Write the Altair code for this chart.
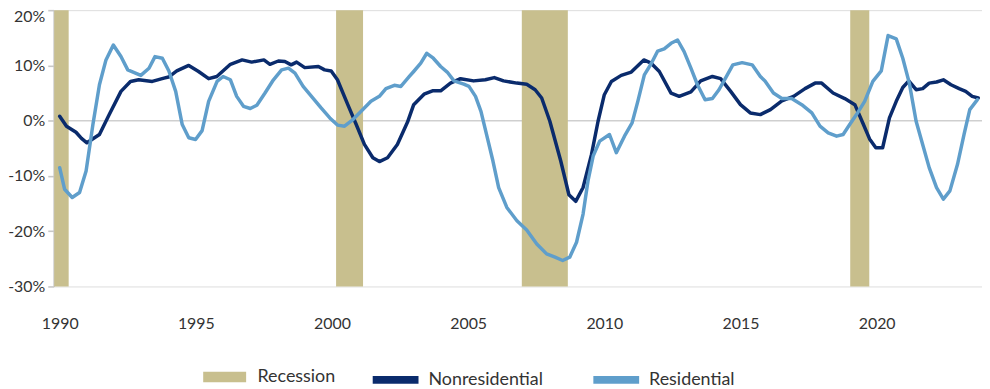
import altair as alt
import pandas as pd

# ---- data (percent, year-over-year) ----
nonres_t = [1990.0, 1990.25, 1990.6, 1990.8, 1991.0, 1991.46, 1991.82, 1992.25, 1992.6, 1992.9,
            1993.4, 1993.83, 1994.0, 1994.3, 1994.74, 1995.1, 1995.47, 1995.77, 1996.27, 1996.7,
            1997.05, 1997.5, 1997.72, 1998.03, 1998.27, 1998.5, 1998.7, 1999.0, 1999.5, 1999.73,
            1999.97, 2000.2, 2000.58, 2000.89, 2001.19, 2001.5, 2001.74, 2002.04, 2002.4, 2002.77,
            2003.0, 2003.38, 2003.69, 2003.99, 2004.35, 2004.72, 2005.2, 2005.63, 2005.96, 2006.3,
            2006.79, 2007.15, 2007.46, 2007.7, 2008.0, 2008.4, 2008.7, 2008.95, 2009.22, 2009.53,
            2009.77, 2010.0, 2010.26, 2010.62, 2010.99, 2011.45, 2011.72, 2012.02, 2012.45, 2012.75,
            2013.18, 2013.54, 2013.97, 2014.27, 2014.64, 2015.0, 2015.36, 2015.73, 2016.1, 2016.52,
            2016.95, 2017.37, 2017.74, 2017.98, 2018.4, 2018.83, 2019.2, 2019.5, 2019.74, 2019.97,
            2020.22, 2020.47, 2020.72, 2020.96, 2021.18, 2021.45, 2021.69, 2021.93, 2022.2, 2022.45,
            2022.73, 2023.03, 2023.27, 2023.51, 2023.73]
nonres_v = [0.8, -1.0, -2.1, -3.2, -4.0, -2.5, 1.1, 5.3, 7.1, 7.4,
            7.1, 7.7, 7.9, 9.0, 10.0, 8.9, 7.6, 8.0, 10.2, 11.0,
            10.6, 11.0, 10.2, 10.8, 10.7, 10.1, 10.6, 9.6, 9.8, 9.2,
            9.0, 7.4, 2.9, -0.7, -4.3, -6.7, -7.4, -6.7, -4.3, -0.3,
            2.9, 4.8, 5.4, 5.4, 6.8, 7.6, 7.2, 7.4, 7.8, 7.2,
            6.8, 6.6, 5.6, 4.1, -0.1, -7.3, -13.4, -14.6, -12.1, -6.1,
            -0.1, 4.7, 7.1, 8.2, 8.8, 11.0, 10.4, 8.9, 5.0, 4.4,
            5.2, 7.2, 8.0, 7.6, 5.3, 2.9, 1.4, 1.1, 2.0, 3.6,
            4.4, 5.8, 6.8, 6.8, 5.0, 4.0, 2.9, -0.5, -3.3, -4.9,
            -4.9, 0.5, 3.5, 6.0, 7.2, 5.6, 5.8, 6.8, 7.0, 7.4,
            6.5, 5.8, 5.3, 4.4, 4.1]

res_t = [1990.0, 1990.18, 1990.46, 1990.73, 1990.97, 1991.22, 1991.46, 1991.7, 1991.97, 1992.25,
         1992.5, 1992.98, 1993.28, 1993.5, 1993.77, 1994.01, 1994.26, 1994.5, 1994.74, 1994.99,
         1995.23, 1995.47, 1995.78, 1996.0, 1996.27, 1996.5, 1996.75, 1997.0, 1997.24, 1997.54,
         1997.85, 1998.15, 1998.4, 1998.64, 1998.94, 1999.3, 1999.6, 1999.92, 2000.2, 2000.46,
         2000.77, 2001.07, 2001.43, 2001.74, 2001.98, 2002.29, 2002.53, 2002.84, 2003.0, 2003.26,
         2003.48, 2003.72, 2003.99, 2004.23, 2004.48, 2004.84, 2005.03, 2005.27, 2005.47, 2005.69,
         2005.91, 2006.12, 2006.42, 2006.79, 2007.15, 2007.52, 2007.88, 2008.19, 2008.47, 2008.73,
         2008.98, 2009.22, 2009.4, 2009.59, 2009.83, 2010.19, 2010.44, 2010.74, 2011.02, 2011.23,
         2011.47, 2011.72, 2011.96, 2012.2, 2012.45, 2012.69, 2012.93, 2013.18, 2013.42, 2013.7,
         2013.97, 2014.21, 2014.45, 2014.72, 2015.06, 2015.43, 2015.73, 2015.9, 2016.21, 2016.52,
         2016.88, 2017.25, 2017.62, 2017.92, 2018.22, 2018.53, 2018.77, 2019.01, 2019.26, 2019.56,
         2019.86, 2020.17, 2020.42, 2020.72, 2020.96, 2021.2, 2021.45, 2021.69, 2021.93, 2022.2,
         2022.45, 2022.69, 2022.97, 2023.21, 2023.42, 2023.7]
res_v = [-8.5, -12.4, -13.9, -13.0, -9.1, -0.7, 6.5, 11.0, 13.7, 11.6,
         9.2, 8.2, 9.5, 11.6, 11.3, 9.0, 5.3, -0.7, -3.1, -3.4,
         -1.8, 3.5, 7.1, 8.0, 7.4, 4.4, 2.6, 2.2, 2.8, 5.0,
         7.4, 9.2, 9.5, 8.6, 6.2, 4.1, 2.3, 0.5, -0.8, -1.0,
         0.2, 1.7, 3.5, 4.4, 5.8, 6.4, 6.2, 8.0, 8.9, 10.4,
         12.2, 11.3, 9.8, 8.8, 7.2, 6.6, 6.2, 4.4, 1.7, -2.8,
         -7.3, -12.1, -15.7, -18.1, -19.8, -22.3, -24.1, -24.7, -25.3, -24.7,
         -22.0, -16.9, -10.9, -6.4, -3.7, -2.5, -5.8, -2.8, -0.4, 3.5,
         8.3, 10.3, 12.6, 13.0, 14.0, 14.6, 12.5, 9.5, 6.5, 3.8,
         4.0, 5.6, 7.7, 10.1, 10.5, 10.1, 8.0, 7.2, 5.0, 4.0,
         4.0, 2.9, 1.4, -1.0, -2.2, -2.8, -2.5, -0.7, 1.1, 3.5,
         7.1, 9.0, 15.4, 14.8, 11.3, 6.8, -0.1, -4.3, -8.5, -12.1,
         -14.2, -12.7, -7.9, -2.5, 2.0, 3.8]

rec_start = [1989.8, 2000.15, 2006.97, 2019.03]
rec_end = [1990.33, 2001.14, 2008.66, 2019.73]

line_names = ["Nonresidential", "Residential"]
line_colors = ["#0a2b6c", "#5f9ecb"]
rec_name = "Recession"
rec_color = "#c8bf8e"
x_ticks = [1990, 1995, 2000, 2005, 2010, 2015, 2020]
y_ticks = [-30, -20, -10, 0, 10, 20]

lines_df = pd.concat([
    pd.DataFrame({"year": nonres_t, "value": nonres_v, "series": line_names[0]}),
    pd.DataFrame({"year": res_t, "value": res_v, "series": line_names[1]}),
])
rec_df = pd.DataFrame({"start": rec_start, "end": rec_end, "series": rec_name})

FONT = "Lato"
TXT = "#333333"

xscale = alt.Scale(domain=[1989.781, 2023.869], nice=False, zero=False)
yscale = alt.Scale(domain=[-30, 20], nice=False)

zero = alt.Chart(pd.DataFrame({"z": [0]})).mark_rule(color="#cfcfcf", strokeWidth=1.6).encode(
    y=alt.Y("z:Q", scale=yscale),
)

rects = alt.Chart(rec_df).mark_rect(opacity=1).encode(
    x=alt.X("start:Q", scale=xscale),
    x2="end:Q",
    y=alt.datum(20),
    y2=alt.datum(-30),
    fill=alt.Fill("series:N", scale=alt.Scale(domain=[rec_name], range=[rec_color]),
                  legend=alt.Legend(title=None, orient="none", legendX=147, legendY=344,
                                    symbolType="M-0.9,-0.22H0.9V0.22H-0.9Z", symbolSize=2304,
                                    symbolOpacity=1, labelOffset=8, padding=0,
                                    labelFont=FONT, labelFontSize=18, labelColor=TXT)),
)

lines = alt.Chart(lines_df).mark_line(strokeWidth=3.5, strokeJoin="round", strokeCap="round").encode(
    x=alt.X("year:Q", scale=xscale, title=None,
            axis=alt.Axis(values=x_ticks, format="d", domain=False, ticks=False, grid=False,
                          labelPadding=29, labelFont=FONT, labelFontSize=16, labelColor=TXT)),
    y=alt.Y("value:Q", scale=yscale, title=None,
            axis=alt.Axis(values=y_ticks, labelExpr="datum.value + '%'", grid=False,
                          domainColor="#c8c8c8", domainWidth=1.6, tickColor="#c8c8c8",
                          tickWidth=1.6, tickSize=6, labelPadding=3,
                          labelOffset={"condition": {"test": "datum.value == 20", "value": 6},
                                       "value": 0},
                          labelFont=FONT, labelFontSize=16, labelColor=TXT)),
    stroke=alt.Stroke("series:N", scale=alt.Scale(domain=line_names, range=line_colors),
                      legend=alt.Legend(title=None, orient="none", direction="horizontal",
                                        legendX=316, legendY=344,
                                        symbolType="M-0.96,0H0.96", symbolSize=2304,
                                        symbolStrokeWidth=8, symbolOpacity=1,
                                        labelOffset=5, columnPadding=33, padding=0,
                                        labelFont=FONT, labelFontSize=18, labelColor=TXT)),
)

chart = alt.layer(zero, rects, lines).properties(
    width=934, height=278,
    autosize="none",
    padding={"left": 46, "top": 1, "right": 0, "bottom": 102},
).configure_view(stroke=None).configure(font=FONT)

chart.save("out.html", embed_options={"renderer": "svg", "actions": False})
